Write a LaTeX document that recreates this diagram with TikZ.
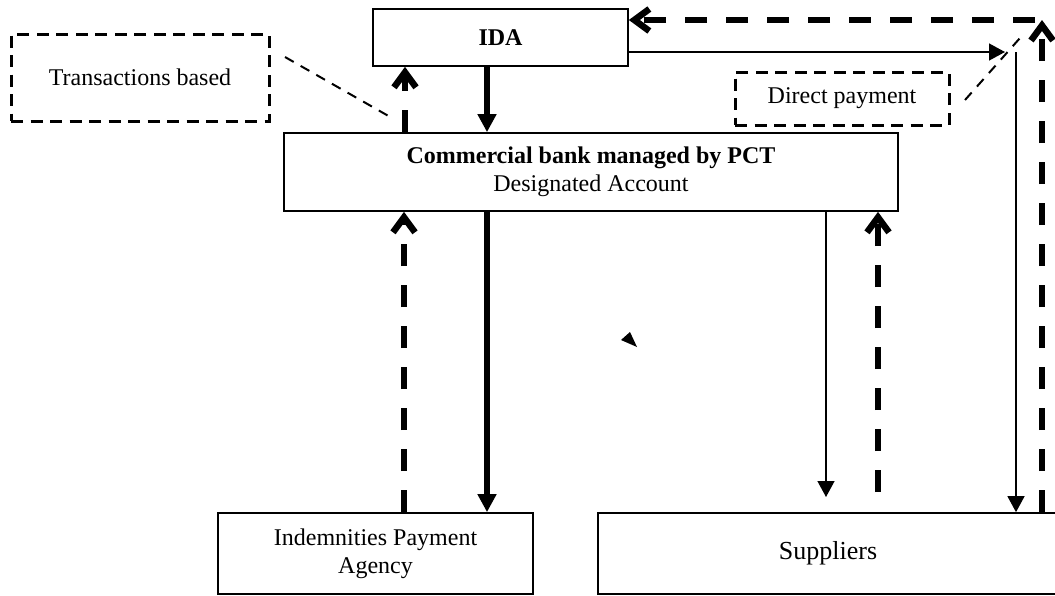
\documentclass[tikz,border=0pt]{standalone}
\usepackage{fontspec}
\setmainfont{Liberation Serif}
\usetikzlibrary{arrows.meta}
\begin{document}
\begin{tikzpicture}[x=0.5pt,y=-0.5pt,
  box/.style={draw,line width=0.85pt,inner sep=0pt,align=center,font=\fontsize{12}{14}\selectfont},
  dbox/.style={box,line width=1.5pt,dash pattern=on 6pt off 3.75pt},
  thickdash/.style={line width=3.25pt,dash pattern=on 11pt off 9.5pt,-{Straight Barb[length=7.5pt,width=11pt]}},
  thickarrow/.style={line width=3pt,-{Triangle[length=9pt,width=9pt]}},
  thinarrow/.style={line width=0.7pt,-{Triangle[length=8pt,width=8.5pt]}},
  thindash/.style={line width=1pt,dash pattern=on 5pt off 4pt}]
\useasboundingbox (0,0) rectangle (1055,595);
% nodes
\node[box,minimum width=127.5pt,minimum height=28.5pt] (ida) at (500.5,37.5) {\textbf{IDA}};
\node[box,minimum width=307pt,minimum height=39pt] (bank) at (591,172) {\textbf{Commercial bank managed by PCT}\\Designated Account};
\node[dbox,minimum width=129pt,minimum height=43.5pt] (tb) at (140,77.5) {Transactions based};
\node[dbox,minimum width=107pt,minimum height=26.5pt] (dp) at (842,98.5) {Direct payment};
\node[box,minimum width=157.5pt,minimum height=40.5pt] (ipa) at (375.5,553.5) {Indemnities Payment\\Agency};
\node[box,minimum width=230pt,minimum height=40.5pt,font=\fontsize{13}{15}\selectfont] (sup) at (828,553.5) {Suppliers};
% helper coordinates
\coordinate (c405) at (405,0);
\coordinate (c487) at (487,0);
\coordinate (c404) at (404,0);
\coordinate (s1) at (826,497);
\coordinate (s2) at (878,492);
\coordinate (r52) at (0,52);
\coordinate (rt) at (1005,52);
\coordinate (v1) at (1016,52);
\coordinate (corner) at (1042,20);
\coordinate (cornerL) at (1035,20);
\coordinate (tbA) at (285,57);
\coordinate (tbB) at (392,118);
\coordinate (dpA) at (965,100);
\coordinate (dpB) at (1020,38);
% connectors
\draw[thickdash] (bank.north -| c405) -- (ida.south -| c405);
\draw[thickarrow] (ida.south -| c487) -- (bank.north -| c487);
\draw[thickarrow] (bank.south -| c487) -- (ipa.north -| c487);
\draw[thickdash] (ipa.north -| c404) -- (bank.south -| c404);
\draw[thinarrow] (bank.south -| s1) -- (s1);
\draw[thickdash] (s2) -- (bank.south -| s2);
\draw[thinarrow] (ida.east |- r52) -- (rt);
\draw[thinarrow] (v1) -- (sup.north -| v1);
\draw[thickdash] (sup.north -| corner) -- (corner);
\draw[thickdash] (cornerL) -- (ida.east |- cornerL);
\draw[thindash] (tbA) -- (tbB);
\draw[thindash] (dpA) -- (dpB);
% stray arrowhead
\fill (621,340) -- (630,332) -- (637,347) -- cycle;
\end{tikzpicture}
\end{document}
